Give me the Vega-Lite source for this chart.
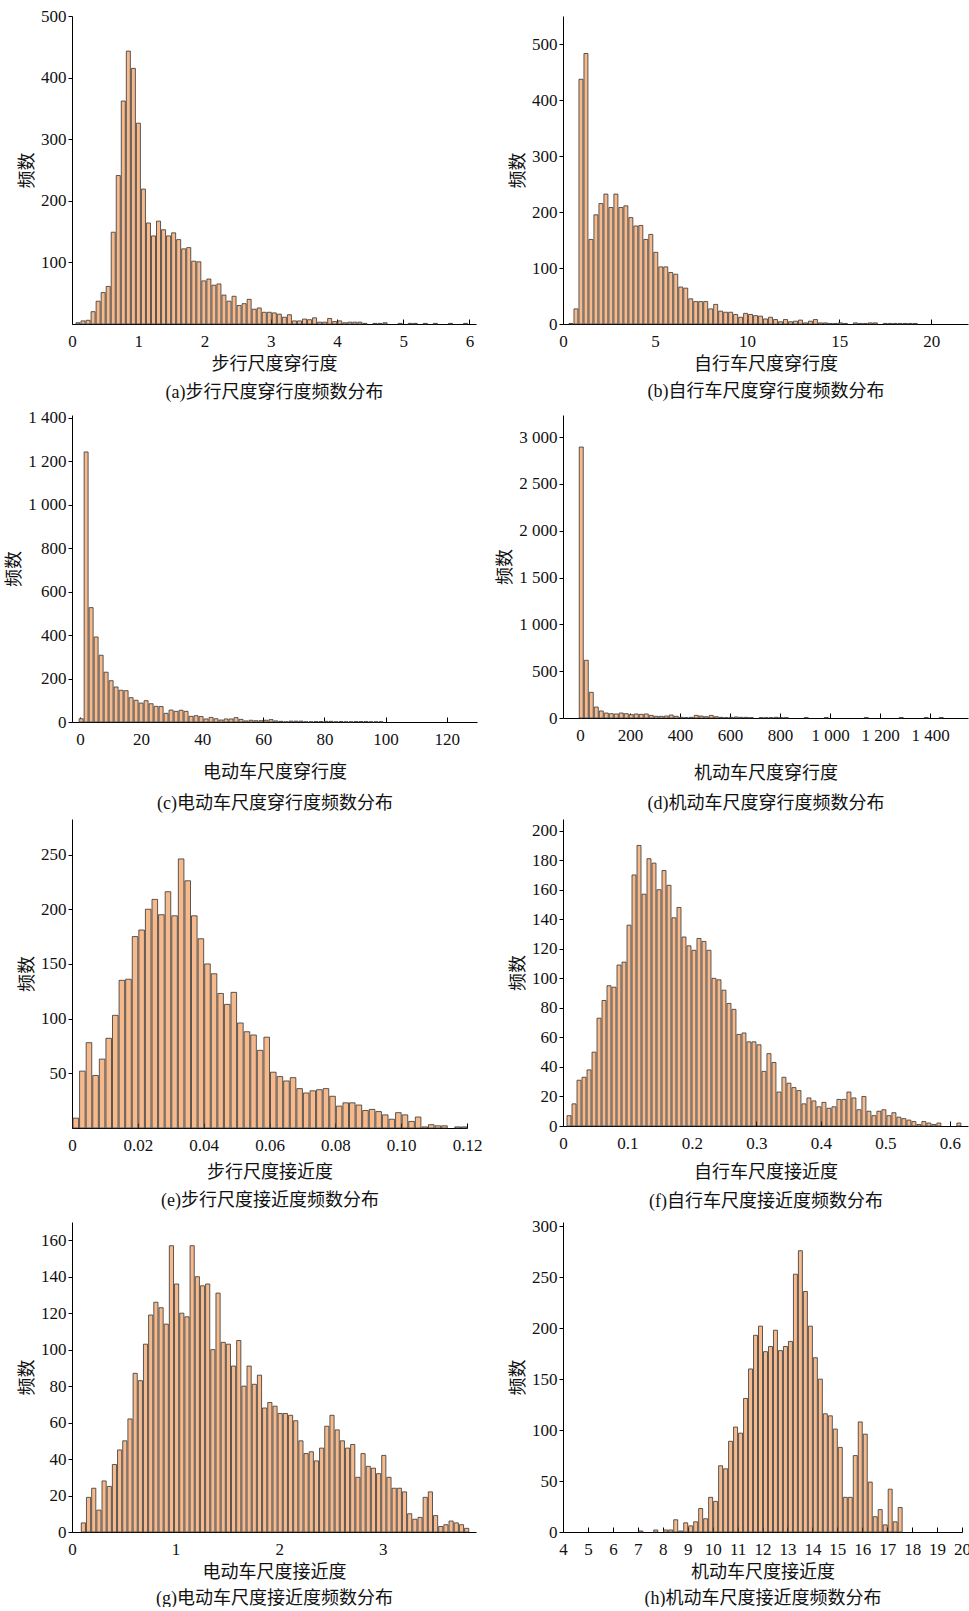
{
"$schema": "https://vega.github.io/schema/vega-lite/v6.json",
"background": "white",
"padding": {"left": 5, "top": 7, "right": 0, "bottom": 0},
"config": {
  "view": {"stroke": null},
  "axis": {"grid": false, "domainColor": "#000", "domainWidth": 1, "tickColor": "#000", "tickWidth": 1, "labelFont": "Liberation Serif", "labelFontSize": 17, "labelColor": "#111", "titleFont": "'Liberation Serif', 'Noto Sans CJK SC'", "titleFontSize": 18, "titleFontWeight": "normal", "titleColor": "#111", "labelOverlap": false},
  "axisX": {"tickSize": -5, "labelPadding": 14, "titlePadding": 5, "labelFlush": false},
  "axisY": {"tickSize": 4, "labelPadding": 2, "titlePadding": 4},
  "bar": {"fill": "#F5B98C", "stroke": "#333333", "strokeWidth": 0.8, "clip": true}
},
"datasets": {
"a": [{"x0":0.045,"x1":0.121,"n":2},{"x0":0.121,"x1":0.197,"n":5},{"x0":0.197,"x1":0.273,"n":6},{"x0":0.273,"x1":0.349,"n":20},{"x0":0.349,"x1":0.425,"n":37},{"x0":0.425,"x1":0.501,"n":51},{"x0":0.501,"x1":0.577,"n":61},{"x0":0.577,"x1":0.653,"n":149},{"x0":0.653,"x1":0.729,"n":241},{"x0":0.729,"x1":0.805,"n":362},{"x0":0.805,"x1":0.881,"n":443},{"x0":0.881,"x1":0.957,"n":415},{"x0":0.957,"x1":1.033,"n":326},{"x0":1.033,"x1":1.109,"n":219},{"x0":1.109,"x1":1.185,"n":164},{"x0":1.185,"x1":1.261,"n":143},{"x0":1.261,"x1":1.337,"n":167},{"x0":1.337,"x1":1.413,"n":153},{"x0":1.413,"x1":1.489,"n":143},{"x0":1.489,"x1":1.565,"n":148},{"x0":1.565,"x1":1.641,"n":137},{"x0":1.641,"x1":1.717,"n":122},{"x0":1.717,"x1":1.793,"n":124},{"x0":1.793,"x1":1.869,"n":102},{"x0":1.869,"x1":1.945,"n":101},{"x0":1.945,"x1":2.021,"n":70},{"x0":2.021,"x1":2.097,"n":73},{"x0":2.097,"x1":2.173,"n":63},{"x0":2.173,"x1":2.249,"n":65},{"x0":2.249,"x1":2.325,"n":47},{"x0":2.325,"x1":2.401,"n":37},{"x0":2.401,"x1":2.477,"n":45},{"x0":2.477,"x1":2.553,"n":30},{"x0":2.553,"x1":2.629,"n":33},{"x0":2.629,"x1":2.705,"n":40},{"x0":2.705,"x1":2.781,"n":24},{"x0":2.781,"x1":2.857,"n":26},{"x0":2.857,"x1":2.933,"n":19},{"x0":2.933,"x1":3.009,"n":19},{"x0":3.009,"x1":3.085,"n":18},{"x0":3.085,"x1":3.161,"n":16},{"x0":3.161,"x1":3.237,"n":11},{"x0":3.237,"x1":3.313,"n":15},{"x0":3.313,"x1":3.389,"n":5},{"x0":3.389,"x1":3.465,"n":5},{"x0":3.465,"x1":3.541,"n":8},{"x0":3.541,"x1":3.617,"n":7},{"x0":3.617,"x1":3.693,"n":10},{"x0":3.693,"x1":3.769,"n":3},{"x0":3.769,"x1":3.845,"n":3},{"x0":3.845,"x1":3.921,"n":9},{"x0":3.921,"x1":3.997,"n":4},{"x0":3.997,"x1":4.073,"n":5},{"x0":4.073,"x1":4.149,"n":2},{"x0":4.149,"x1":4.225,"n":3},{"x0":4.225,"x1":4.301,"n":3},{"x0":4.301,"x1":4.377,"n":3},{"x0":4.377,"x1":4.453,"n":1},{"x0":4.529,"x1":4.605,"n":1},{"x0":4.605,"x1":4.681,"n":1},{"x0":4.681,"x1":4.757,"n":2},{"x0":4.909,"x1":4.985,"n":1},{"x0":5.061,"x1":5.137,"n":1},{"x0":5.137,"x1":5.213,"n":1},{"x0":5.289,"x1":5.365,"n":1},{"x0":5.441,"x1":5.517,"n":1},{"x0":5.669,"x1":5.745,"n":1},{"x0":5.897,"x1":5.973,"n":1}],
"b": [{"x0":0.271,"x1":0.542,"n":1},{"x0":0.542,"x1":0.813,"n":27},{"x0":0.813,"x1":1.084,"n":437},{"x0":1.084,"x1":1.355,"n":483},{"x0":1.355,"x1":1.626,"n":151},{"x0":1.626,"x1":1.897,"n":195},{"x0":1.897,"x1":2.168,"n":215},{"x0":2.168,"x1":2.439,"n":232},{"x0":2.439,"x1":2.71,"n":208},{"x0":2.71,"x1":2.981,"n":232},{"x0":2.981,"x1":3.252,"n":208},{"x0":3.252,"x1":3.523,"n":211},{"x0":3.523,"x1":3.794,"n":190},{"x0":3.794,"x1":4.065,"n":175},{"x0":4.065,"x1":4.336,"n":176},{"x0":4.336,"x1":4.607,"n":151},{"x0":4.607,"x1":4.878,"n":160},{"x0":4.878,"x1":5.149,"n":128},{"x0":5.149,"x1":5.42,"n":102},{"x0":5.42,"x1":5.691,"n":102},{"x0":5.691,"x1":5.962,"n":92},{"x0":5.962,"x1":6.233,"n":89},{"x0":6.233,"x1":6.504,"n":66},{"x0":6.504,"x1":6.775,"n":64},{"x0":6.775,"x1":7.046,"n":45},{"x0":7.046,"x1":7.317,"n":40},{"x0":7.317,"x1":7.588,"n":40},{"x0":7.588,"x1":7.859,"n":40},{"x0":7.859,"x1":8.13,"n":27},{"x0":8.13,"x1":8.401,"n":35},{"x0":8.401,"x1":8.672,"n":23},{"x0":8.672,"x1":8.943,"n":21},{"x0":8.943,"x1":9.214,"n":21},{"x0":9.214,"x1":9.485,"n":17},{"x0":9.485,"x1":9.756,"n":12},{"x0":9.756,"x1":10.027,"n":19},{"x0":10.027,"x1":10.298,"n":17},{"x0":10.298,"x1":10.569,"n":15},{"x0":10.569,"x1":10.84,"n":14},{"x0":10.84,"x1":11.111,"n":9},{"x0":11.111,"x1":11.382,"n":12},{"x0":11.382,"x1":11.653,"n":8},{"x0":11.653,"x1":11.924,"n":4},{"x0":11.924,"x1":12.195,"n":8},{"x0":12.195,"x1":12.466,"n":4},{"x0":12.466,"x1":12.737,"n":5},{"x0":12.737,"x1":13.008,"n":7},{"x0":13.008,"x1":13.279,"n":2},{"x0":13.279,"x1":13.55,"n":5},{"x0":13.55,"x1":13.821,"n":8},{"x0":13.821,"x1":14.092,"n":2},{"x0":14.092,"x1":14.363,"n":2},{"x0":14.363,"x1":14.634,"n":1},{"x0":14.634,"x1":14.905,"n":1},{"x0":14.905,"x1":15.176,"n":2},{"x0":15.176,"x1":15.447,"n":1},{"x0":15.718,"x1":15.989,"n":2},{"x0":15.989,"x1":16.26,"n":1},{"x0":16.26,"x1":16.531,"n":1},{"x0":16.531,"x1":16.802,"n":2},{"x0":16.802,"x1":17.073,"n":2},{"x0":17.344,"x1":17.615,"n":1},{"x0":17.615,"x1":17.886,"n":1},{"x0":17.886,"x1":18.157,"n":1},{"x0":18.157,"x1":18.428,"n":1},{"x0":18.428,"x1":18.699,"n":1},{"x0":18.699,"x1":18.97,"n":1},{"x0":18.97,"x1":19.241,"n":1}],
"c": [{"x0":-0.6,"x1":1.04,"n":15},{"x0":1.04,"x1":2.67,"n":1242},{"x0":2.67,"x1":4.31,"n":526},{"x0":4.31,"x1":5.94,"n":391},{"x0":5.94,"x1":7.58,"n":307},{"x0":7.58,"x1":9.21,"n":229},{"x0":9.21,"x1":10.85,"n":190},{"x0":10.85,"x1":12.48,"n":161},{"x0":12.48,"x1":14.12,"n":146},{"x0":14.12,"x1":15.75,"n":144},{"x0":15.75,"x1":17.39,"n":112},{"x0":17.39,"x1":19.02,"n":100},{"x0":19.02,"x1":20.66,"n":87},{"x0":20.66,"x1":22.29,"n":98},{"x0":22.29,"x1":23.93,"n":84},{"x0":23.93,"x1":25.56,"n":72},{"x0":25.56,"x1":27.2,"n":71},{"x0":27.2,"x1":28.83,"n":40},{"x0":28.83,"x1":30.47,"n":55},{"x0":30.47,"x1":32.1,"n":49},{"x0":32.1,"x1":33.74,"n":54},{"x0":33.74,"x1":35.37,"n":49},{"x0":35.37,"x1":37.01,"n":26},{"x0":37.01,"x1":38.64,"n":29},{"x0":38.64,"x1":40.28,"n":25},{"x0":40.28,"x1":41.91,"n":14},{"x0":41.91,"x1":43.55,"n":21},{"x0":43.55,"x1":45.18,"n":15},{"x0":45.18,"x1":46.82,"n":9},{"x0":46.82,"x1":48.45,"n":14},{"x0":48.45,"x1":50.09,"n":14},{"x0":50.09,"x1":51.72,"n":20},{"x0":51.72,"x1":53.36,"n":12},{"x0":53.36,"x1":54.99,"n":5},{"x0":54.99,"x1":56.63,"n":8},{"x0":56.63,"x1":58.26,"n":6},{"x0":58.26,"x1":59.9,"n":6},{"x0":59.9,"x1":61.53,"n":8},{"x0":61.53,"x1":63.17,"n":11},{"x0":63.17,"x1":64.8,"n":5},{"x0":64.8,"x1":66.44,"n":3},{"x0":66.44,"x1":68.07,"n":1},{"x0":68.07,"x1":69.71,"n":4},{"x0":69.71,"x1":71.34,"n":4},{"x0":71.34,"x1":72.98,"n":4},{"x0":72.98,"x1":74.61,"n":1},{"x0":74.61,"x1":76.25,"n":1},{"x0":76.25,"x1":77.88,"n":2},{"x0":77.88,"x1":79.52,"n":2},{"x0":79.52,"x1":81.15,"n":3},{"x0":81.15,"x1":82.79,"n":3},{"x0":82.79,"x1":84.42,"n":1},{"x0":84.42,"x1":86.06,"n":2},{"x0":86.06,"x1":87.69,"n":1},{"x0":87.69,"x1":89.33,"n":1},{"x0":89.33,"x1":90.96,"n":2},{"x0":90.96,"x1":92.6,"n":2},{"x0":92.6,"x1":94.23,"n":2},{"x0":94.23,"x1":95.87,"n":1},{"x0":95.87,"x1":97.5,"n":1},{"x0":97.5,"x1":99.14,"n":1}],
"d": [{"x0":-7,"x1":13,"n":2893},{"x0":13,"x1":33,"n":616},{"x0":33,"x1":53,"n":274},{"x0":53,"x1":73,"n":117},{"x0":73,"x1":93,"n":75},{"x0":93,"x1":113,"n":53},{"x0":113,"x1":133,"n":46},{"x0":133,"x1":153,"n":43},{"x0":153,"x1":173,"n":53},{"x0":173,"x1":193,"n":46},{"x0":193,"x1":213,"n":36},{"x0":213,"x1":233,"n":43},{"x0":233,"x1":253,"n":39},{"x0":253,"x1":273,"n":43},{"x0":273,"x1":293,"n":28},{"x0":293,"x1":313,"n":18},{"x0":313,"x1":333,"n":18},{"x0":333,"x1":353,"n":21},{"x0":353,"x1":373,"n":32},{"x0":373,"x1":393,"n":18},{"x0":393,"x1":413,"n":7},{"x0":413,"x1":433,"n":4},{"x0":433,"x1":453,"n":7},{"x0":453,"x1":473,"n":28},{"x0":473,"x1":493,"n":21},{"x0":493,"x1":513,"n":14},{"x0":513,"x1":533,"n":28},{"x0":533,"x1":553,"n":14},{"x0":553,"x1":573,"n":7},{"x0":573,"x1":593,"n":4},{"x0":593,"x1":613,"n":7},{"x0":613,"x1":633,"n":11},{"x0":633,"x1":653,"n":7},{"x0":653,"x1":673,"n":7},{"x0":673,"x1":693,"n":4},{"x0":713,"x1":733,"n":4},{"x0":733,"x1":753,"n":4},{"x0":753,"x1":773,"n":4},{"x0":773,"x1":793,"n":7},{"x0":793,"x1":813,"n":4},{"x0":813,"x1":833,"n":4},{"x0":893,"x1":913,"n":4},{"x0":973,"x1":993,"n":4},{"x0":1133,"x1":1153,"n":4},{"x0":1273,"x1":1293,"n":4},{"x0":1373,"x1":1393,"n":4},{"x0":1433,"x1":1453,"n":4}],
"e": [{"x0":0,"x1":0.002,"n":9},{"x0":0.002,"x1":0.004,"n":52},{"x0":0.004,"x1":0.006,"n":78},{"x0":0.006,"x1":0.008,"n":48},{"x0":0.008,"x1":0.01,"n":63},{"x0":0.01,"x1":0.012,"n":82},{"x0":0.012,"x1":0.014,"n":103},{"x0":0.014,"x1":0.016,"n":135},{"x0":0.016,"x1":0.018,"n":136},{"x0":0.018,"x1":0.02,"n":175},{"x0":0.02,"x1":0.022,"n":181},{"x0":0.022,"x1":0.024,"n":200},{"x0":0.024,"x1":0.026,"n":209},{"x0":0.026,"x1":0.028,"n":195},{"x0":0.028,"x1":0.03,"n":216},{"x0":0.03,"x1":0.032,"n":194},{"x0":0.032,"x1":0.034,"n":246},{"x0":0.034,"x1":0.036,"n":226},{"x0":0.036,"x1":0.038,"n":194},{"x0":0.038,"x1":0.04,"n":173},{"x0":0.04,"x1":0.042,"n":150},{"x0":0.042,"x1":0.044,"n":141},{"x0":0.044,"x1":0.046,"n":123},{"x0":0.046,"x1":0.048,"n":113},{"x0":0.048,"x1":0.05,"n":124},{"x0":0.05,"x1":0.052,"n":96},{"x0":0.052,"x1":0.054,"n":88},{"x0":0.054,"x1":0.056,"n":85},{"x0":0.056,"x1":0.058,"n":71},{"x0":0.058,"x1":0.06,"n":83},{"x0":0.06,"x1":0.062,"n":51},{"x0":0.062,"x1":0.064,"n":47},{"x0":0.064,"x1":0.066,"n":43},{"x0":0.066,"x1":0.068,"n":46},{"x0":0.068,"x1":0.07,"n":36},{"x0":0.07,"x1":0.072,"n":32},{"x0":0.072,"x1":0.074,"n":34},{"x0":0.074,"x1":0.076,"n":35},{"x0":0.076,"x1":0.078,"n":36},{"x0":0.078,"x1":0.08,"n":29},{"x0":0.08,"x1":0.082,"n":20},{"x0":0.082,"x1":0.084,"n":23},{"x0":0.084,"x1":0.086,"n":23},{"x0":0.086,"x1":0.088,"n":21},{"x0":0.088,"x1":0.09,"n":16},{"x0":0.09,"x1":0.092,"n":17},{"x0":0.092,"x1":0.094,"n":15},{"x0":0.094,"x1":0.096,"n":12},{"x0":0.096,"x1":0.098,"n":8},{"x0":0.098,"x1":0.1,"n":14},{"x0":0.1,"x1":0.102,"n":12},{"x0":0.102,"x1":0.104,"n":6},{"x0":0.104,"x1":0.106,"n":10},{"x0":0.106,"x1":0.108,"n":1},{"x0":0.108,"x1":0.11,"n":3},{"x0":0.11,"x1":0.112,"n":2},{"x0":0.112,"x1":0.114,"n":2},{"x0":0.116,"x1":0.118,"n":1},{"x0":0.118,"x1":0.12,"n":1}],
"f": [{"x0":0.0047,"x1":0.01245,"n":7},{"x0":0.01245,"x1":0.0202,"n":15},{"x0":0.0202,"x1":0.02795,"n":31},{"x0":0.02795,"x1":0.0357,"n":33},{"x0":0.0357,"x1":0.04345,"n":38},{"x0":0.04345,"x1":0.0512,"n":50},{"x0":0.0512,"x1":0.05895,"n":73},{"x0":0.05895,"x1":0.0667,"n":85},{"x0":0.0667,"x1":0.07445,"n":95},{"x0":0.07445,"x1":0.0822,"n":94},{"x0":0.0822,"x1":0.08995,"n":109},{"x0":0.08995,"x1":0.0977,"n":111},{"x0":0.0977,"x1":0.10545,"n":136},{"x0":0.10545,"x1":0.1132,"n":170},{"x0":0.1132,"x1":0.12095,"n":190},{"x0":0.12095,"x1":0.1287,"n":157},{"x0":0.1287,"x1":0.13645,"n":181},{"x0":0.13645,"x1":0.1442,"n":178},{"x0":0.1442,"x1":0.15195,"n":160},{"x0":0.15195,"x1":0.1597,"n":173},{"x0":0.1597,"x1":0.16745,"n":163},{"x0":0.16745,"x1":0.1752,"n":141},{"x0":0.1752,"x1":0.18295,"n":148},{"x0":0.18295,"x1":0.1907,"n":128},{"x0":0.1907,"x1":0.19845,"n":122},{"x0":0.19845,"x1":0.2062,"n":119},{"x0":0.2062,"x1":0.21395,"n":127},{"x0":0.21395,"x1":0.2217,"n":125},{"x0":0.2217,"x1":0.22945,"n":119},{"x0":0.22945,"x1":0.2372,"n":100},{"x0":0.2372,"x1":0.24495,"n":99},{"x0":0.24495,"x1":0.2527,"n":92},{"x0":0.2527,"x1":0.26045,"n":83},{"x0":0.26045,"x1":0.2682,"n":79},{"x0":0.2682,"x1":0.27595,"n":62},{"x0":0.27595,"x1":0.2837,"n":63},{"x0":0.2837,"x1":0.29145,"n":57},{"x0":0.29145,"x1":0.2992,"n":57},{"x0":0.2992,"x1":0.30695,"n":55},{"x0":0.30695,"x1":0.3147,"n":37},{"x0":0.3147,"x1":0.32245,"n":49},{"x0":0.32245,"x1":0.3302,"n":43},{"x0":0.3302,"x1":0.33795,"n":23},{"x0":0.33795,"x1":0.3457,"n":33},{"x0":0.3457,"x1":0.35345,"n":29},{"x0":0.35345,"x1":0.3612,"n":26},{"x0":0.3612,"x1":0.36895,"n":24},{"x0":0.36895,"x1":0.3767,"n":15},{"x0":0.3767,"x1":0.38445,"n":19},{"x0":0.38445,"x1":0.3922,"n":17},{"x0":0.3922,"x1":0.39995,"n":13},{"x0":0.39995,"x1":0.4077,"n":16},{"x0":0.4077,"x1":0.41545,"n":12},{"x0":0.41545,"x1":0.4232,"n":13},{"x0":0.4232,"x1":0.43095,"n":18},{"x0":0.43095,"x1":0.4387,"n":18},{"x0":0.4387,"x1":0.44645,"n":23},{"x0":0.44645,"x1":0.4542,"n":19},{"x0":0.4542,"x1":0.46195,"n":11},{"x0":0.46195,"x1":0.4697,"n":20},{"x0":0.4697,"x1":0.47745,"n":10},{"x0":0.47745,"x1":0.4852,"n":7},{"x0":0.4852,"x1":0.49295,"n":10},{"x0":0.49295,"x1":0.5007,"n":11},{"x0":0.5007,"x1":0.50845,"n":7},{"x0":0.50845,"x1":0.5162,"n":9},{"x0":0.5162,"x1":0.52395,"n":6},{"x0":0.52395,"x1":0.5317,"n":5},{"x0":0.5317,"x1":0.53945,"n":4},{"x0":0.53945,"x1":0.5472,"n":3},{"x0":0.5472,"x1":0.55495,"n":1},{"x0":0.55495,"x1":0.5627,"n":3},{"x0":0.5627,"x1":0.57045,"n":2},{"x0":0.57045,"x1":0.5782,"n":1},{"x0":0.5782,"x1":0.58595,"n":2},{"x0":0.6092,"x1":0.61695,"n":2}],
"g": [{"x0":0.08,"x1":0.13,"n":5},{"x0":0.13,"x1":0.18,"n":19},{"x0":0.18,"x1":0.23,"n":24},{"x0":0.23,"x1":0.28,"n":12},{"x0":0.28,"x1":0.33,"n":28},{"x0":0.33,"x1":0.38,"n":25},{"x0":0.38,"x1":0.43,"n":37},{"x0":0.43,"x1":0.48,"n":45},{"x0":0.48,"x1":0.53,"n":50},{"x0":0.53,"x1":0.58,"n":62},{"x0":0.58,"x1":0.63,"n":87},{"x0":0.63,"x1":0.68,"n":83},{"x0":0.68,"x1":0.73,"n":103},{"x0":0.73,"x1":0.78,"n":119},{"x0":0.78,"x1":0.83,"n":126},{"x0":0.83,"x1":0.88,"n":123},{"x0":0.88,"x1":0.93,"n":114},{"x0":0.93,"x1":0.98,"n":157},{"x0":0.98,"x1":1.03,"n":136},{"x0":1.03,"x1":1.08,"n":120},{"x0":1.08,"x1":1.13,"n":118},{"x0":1.13,"x1":1.18,"n":157},{"x0":1.18,"x1":1.23,"n":140},{"x0":1.23,"x1":1.28,"n":135},{"x0":1.28,"x1":1.33,"n":136},{"x0":1.33,"x1":1.38,"n":100},{"x0":1.38,"x1":1.43,"n":131},{"x0":1.43,"x1":1.48,"n":104},{"x0":1.48,"x1":1.53,"n":103},{"x0":1.53,"x1":1.58,"n":91},{"x0":1.58,"x1":1.63,"n":105},{"x0":1.63,"x1":1.68,"n":80},{"x0":1.68,"x1":1.73,"n":91},{"x0":1.73,"x1":1.78,"n":81},{"x0":1.78,"x1":1.83,"n":86},{"x0":1.83,"x1":1.88,"n":68},{"x0":1.88,"x1":1.93,"n":71},{"x0":1.93,"x1":1.98,"n":69},{"x0":1.98,"x1":2.03,"n":65},{"x0":2.03,"x1":2.08,"n":65},{"x0":2.08,"x1":2.13,"n":64},{"x0":2.13,"x1":2.18,"n":61},{"x0":2.18,"x1":2.23,"n":50},{"x0":2.23,"x1":2.28,"n":43},{"x0":2.28,"x1":2.33,"n":44},{"x0":2.33,"x1":2.38,"n":39},{"x0":2.38,"x1":2.43,"n":46},{"x0":2.43,"x1":2.48,"n":58},{"x0":2.48,"x1":2.53,"n":64},{"x0":2.53,"x1":2.58,"n":56},{"x0":2.58,"x1":2.63,"n":50},{"x0":2.63,"x1":2.68,"n":46},{"x0":2.68,"x1":2.73,"n":48},{"x0":2.73,"x1":2.78,"n":30},{"x0":2.78,"x1":2.83,"n":43},{"x0":2.83,"x1":2.88,"n":36},{"x0":2.88,"x1":2.93,"n":35},{"x0":2.93,"x1":2.98,"n":32},{"x0":2.98,"x1":3.03,"n":42},{"x0":3.03,"x1":3.08,"n":30},{"x0":3.08,"x1":3.13,"n":24},{"x0":3.13,"x1":3.18,"n":24},{"x0":3.18,"x1":3.23,"n":22},{"x0":3.23,"x1":3.28,"n":10},{"x0":3.28,"x1":3.33,"n":7},{"x0":3.33,"x1":3.38,"n":8},{"x0":3.38,"x1":3.43,"n":19},{"x0":3.43,"x1":3.48,"n":22},{"x0":3.48,"x1":3.53,"n":9},{"x0":3.53,"x1":3.58,"n":3},{"x0":3.58,"x1":3.63,"n":4},{"x0":3.63,"x1":3.68,"n":6},{"x0":3.68,"x1":3.73,"n":5},{"x0":3.73,"x1":3.78,"n":4},{"x0":3.78,"x1":3.83,"n":2}],
"h": [{"x0":7.0,"x1":7.2,"n":1},{"x0":7.6,"x1":7.8,"n":2},{"x0":8.0,"x1":8.2,"n":2},{"x0":8.2,"x1":8.4,"n":2},{"x0":8.4,"x1":8.6,"n":12},{"x0":8.6,"x1":8.8,"n":1},{"x0":8.8,"x1":9.0,"n":9},{"x0":9.0,"x1":9.2,"n":6},{"x0":9.2,"x1":9.4,"n":10},{"x0":9.4,"x1":9.6,"n":23},{"x0":9.6,"x1":9.8,"n":13},{"x0":9.8,"x1":10.0,"n":34},{"x0":10.0,"x1":10.2,"n":30},{"x0":10.2,"x1":10.4,"n":65},{"x0":10.4,"x1":10.6,"n":62},{"x0":10.6,"x1":10.8,"n":89},{"x0":10.8,"x1":11.0,"n":103},{"x0":11.0,"x1":11.2,"n":97},{"x0":11.2,"x1":11.4,"n":131},{"x0":11.4,"x1":11.6,"n":160},{"x0":11.6,"x1":11.8,"n":193},{"x0":11.8,"x1":12.0,"n":202},{"x0":12.0,"x1":12.2,"n":177},{"x0":12.2,"x1":12.4,"n":182},{"x0":12.4,"x1":12.6,"n":198},{"x0":12.6,"x1":12.8,"n":178},{"x0":12.8,"x1":13.0,"n":182},{"x0":13.0,"x1":13.2,"n":187},{"x0":13.2,"x1":13.4,"n":253},{"x0":13.4,"x1":13.6,"n":276},{"x0":13.6,"x1":13.8,"n":236},{"x0":13.8,"x1":14.0,"n":202},{"x0":14.0,"x1":14.2,"n":171},{"x0":14.2,"x1":14.4,"n":150},{"x0":14.4,"x1":14.6,"n":116},{"x0":14.6,"x1":14.8,"n":114},{"x0":14.8,"x1":15.0,"n":101},{"x0":15.0,"x1":15.2,"n":83},{"x0":15.2,"x1":15.4,"n":34},{"x0":15.4,"x1":15.6,"n":34},{"x0":15.6,"x1":15.8,"n":75},{"x0":15.8,"x1":16.0,"n":108},{"x0":16.0,"x1":16.2,"n":96},{"x0":16.2,"x1":16.4,"n":49},{"x0":16.4,"x1":16.6,"n":15},{"x0":16.6,"x1":16.8,"n":22},{"x0":16.8,"x1":17.0,"n":7},{"x0":17.0,"x1":17.2,"n":42},{"x0":17.2,"x1":17.4,"n":10},{"x0":17.4,"x1":17.6,"n":24}]
},
"columns": 2,
"spacing": {"row": 7, "column": 14},
"concat": [
 {"width": 404, "height": 308, "data": {"name": "a"}, "mark": "bar",
  "encoding": {
   "x": {"field": "x0", "type": "quantitative", "bin": {"binned": true}, "scale": {"domain": [0, 6.1], "nice": false, "zero": false}, "axis": {"values": [0,1,2,3,4,5,6], "format": "d", "title": ["步行尺度穿行度", "(a)步行尺度穿行度频数分布"], "titleLineHeight": 28, "titlePadding": 6}},
   "x2": {"field": "x1"},
   "y": {"field": "n", "type": "quantitative", "scale": {"domain": [0, 500], "nice": false}, "axis": {"values": [100,200,300,400,500], "title": "频数"}}}},
 {"width": 405, "height": 308, "data": {"name": "b"}, "mark": "bar",
  "encoding": {
   "x": {"field": "x0", "type": "quantitative", "bin": {"binned": true}, "scale": {"domain": [0, 22], "nice": false, "zero": false}, "axis": {"values": [0,5,10,15,20], "format": "d", "title": ["自行车尺度穿行度", "(b)自行车尺度穿行度频数分布"], "titleLineHeight": 27, "titlePadding": 6}},
   "x2": {"field": "x1"},
   "y": {"field": "n", "type": "quantitative", "scale": {"domain": [0, 550], "nice": false}, "axis": {"values": [0,100,200,300,400,500], "title": "频数"}}}},
 {"width": 405, "height": 307, "data": {"name": "c"}, "mark": "bar",
  "encoding": {
   "x": {"field": "x0", "type": "quantitative", "bin": {"binned": true}, "scale": {"domain": [-2.6, 129.9], "nice": false, "zero": false}, "axis": {"values": [0,20,40,60,80,100,120], "format": "d", "title": ["电动车尺度穿行度", "(c)电动车尺度穿行度频数分布"], "titleLineHeight": 31, "titlePadding": 16}},
   "x2": {"field": "x1"},
   "y": {"field": "n", "type": "quantitative", "scale": {"domain": [0, 1412], "nice": false}, "axis": {"values": [0,200,400,600,800,1000,1200,1400], "labelExpr": "replace(format(datum.value, ','), ',', ' ')", "title": "频数"}}}},
 {"width": 405, "height": 303, "data": {"name": "d"}, "mark": "bar",
  "encoding": {
   "x": {"field": "x0", "type": "quantitative", "bin": {"binned": true}, "scale": {"domain": [-68, 1552], "nice": false, "zero": false}, "axis": {"values": [0,200,400,600,800,1000,1200,1400], "labelExpr": "replace(format(datum.value, ','), ',', ' ')", "title": ["机动车尺度穿行度", "(d)机动车尺度穿行度频数分布"], "titleLineHeight": 30, "titlePadding": 21}},
   "x2": {"field": "x1"},
   "y": {"field": "n", "type": "quantitative", "scale": {"domain": [0, 3235], "nice": false}, "axis": {"values": [0,500,1000,1500,2000,2500,3000], "labelExpr": "replace(format(datum.value, ','), ',', ' ')", "title": "频数"}}}},
 {"width": 395, "height": 309, "data": {"name": "e"}, "mark": "bar",
  "encoding": {
   "x": {"field": "x0", "type": "quantitative", "bin": {"binned": true}, "scale": {"domain": [0, 0.12], "nice": false, "zero": false}, "axis": {"values": [0,0.02,0.04,0.06,0.08,0.1,0.12], "labelExpr": "datum.value == 0 ? '0' : format(datum.value, '.2f')", "title": ["步行尺度接近度", "(e)步行尺度接近度频数分布"], "titleLineHeight": 28, "titlePadding": 10}},
   "x2": {"field": "x1"},
   "y": {"field": "n", "type": "quantitative", "scale": {"domain": [0, 282.5], "nice": false}, "axis": {"values": [50,100,150,200,250], "title": "频数"}}}},
 {"width": 405, "height": 307, "data": {"name": "f"}, "mark": "bar",
  "encoding": {
   "x": {"field": "x0", "type": "quantitative", "bin": {"binned": true}, "scale": {"domain": [0, 0.628], "nice": false, "zero": false}, "axis": {"values": [0,0.1,0.2,0.3,0.4,0.5,0.6], "labelExpr": "datum.value == 0 ? '0' : format(datum.value, '.1f')", "title": ["自行车尺度接近度", "(f)自行车尺度接近度频数分布"], "titleLineHeight": 29, "titlePadding": 12}},
   "x2": {"field": "x1"},
   "y": {"field": "n", "type": "quantitative", "scale": {"domain": [0, 207.9], "nice": false}, "axis": {"values": [0,20,40,60,80,100,120,140,160,180,200], "title": "频数"}}}},
 {"width": 404, "height": 310, "data": {"name": "g"}, "mark": "bar",
  "encoding": {
   "x": {"field": "x0", "type": "quantitative", "bin": {"binned": true}, "scale": {"domain": [0, 3.9], "nice": false, "zero": false}, "axis": {"values": [0,1,2,3], "format": "d", "title": ["电动车尺度接近度", "(g)电动车尺度接近度频数分布"], "titleLineHeight": 26, "titlePadding": 6}},
   "x2": {"field": "x1"},
   "y": {"field": "n", "type": "quantitative", "scale": {"domain": [0, 170], "nice": false}, "axis": {"values": [0,20,40,60,80,100,120,140,160], "title": "频数"}}}},
 {"width": 399, "height": 310, "data": {"name": "h"}, "mark": "bar",
  "encoding": {
   "x": {"field": "x0", "type": "quantitative", "bin": {"binned": true}, "scale": {"domain": [4, 20], "nice": false, "zero": false}, "axis": {"values": [4,5,6,7,8,9,10,11,12,13,14,15,16,17,18,19,20], "format": "d", "title": ["机动车尺度接近度", "(h)机动车尺度接近度频数分布"], "titleLineHeight": 26, "titlePadding": 6}},
   "x2": {"field": "x1"},
   "y": {"field": "n", "type": "quantitative", "scale": {"domain": [0, 304.2], "nice": false}, "axis": {"values": [0,50,100,150,200,250,300], "title": "频数"}}}}
]
}
